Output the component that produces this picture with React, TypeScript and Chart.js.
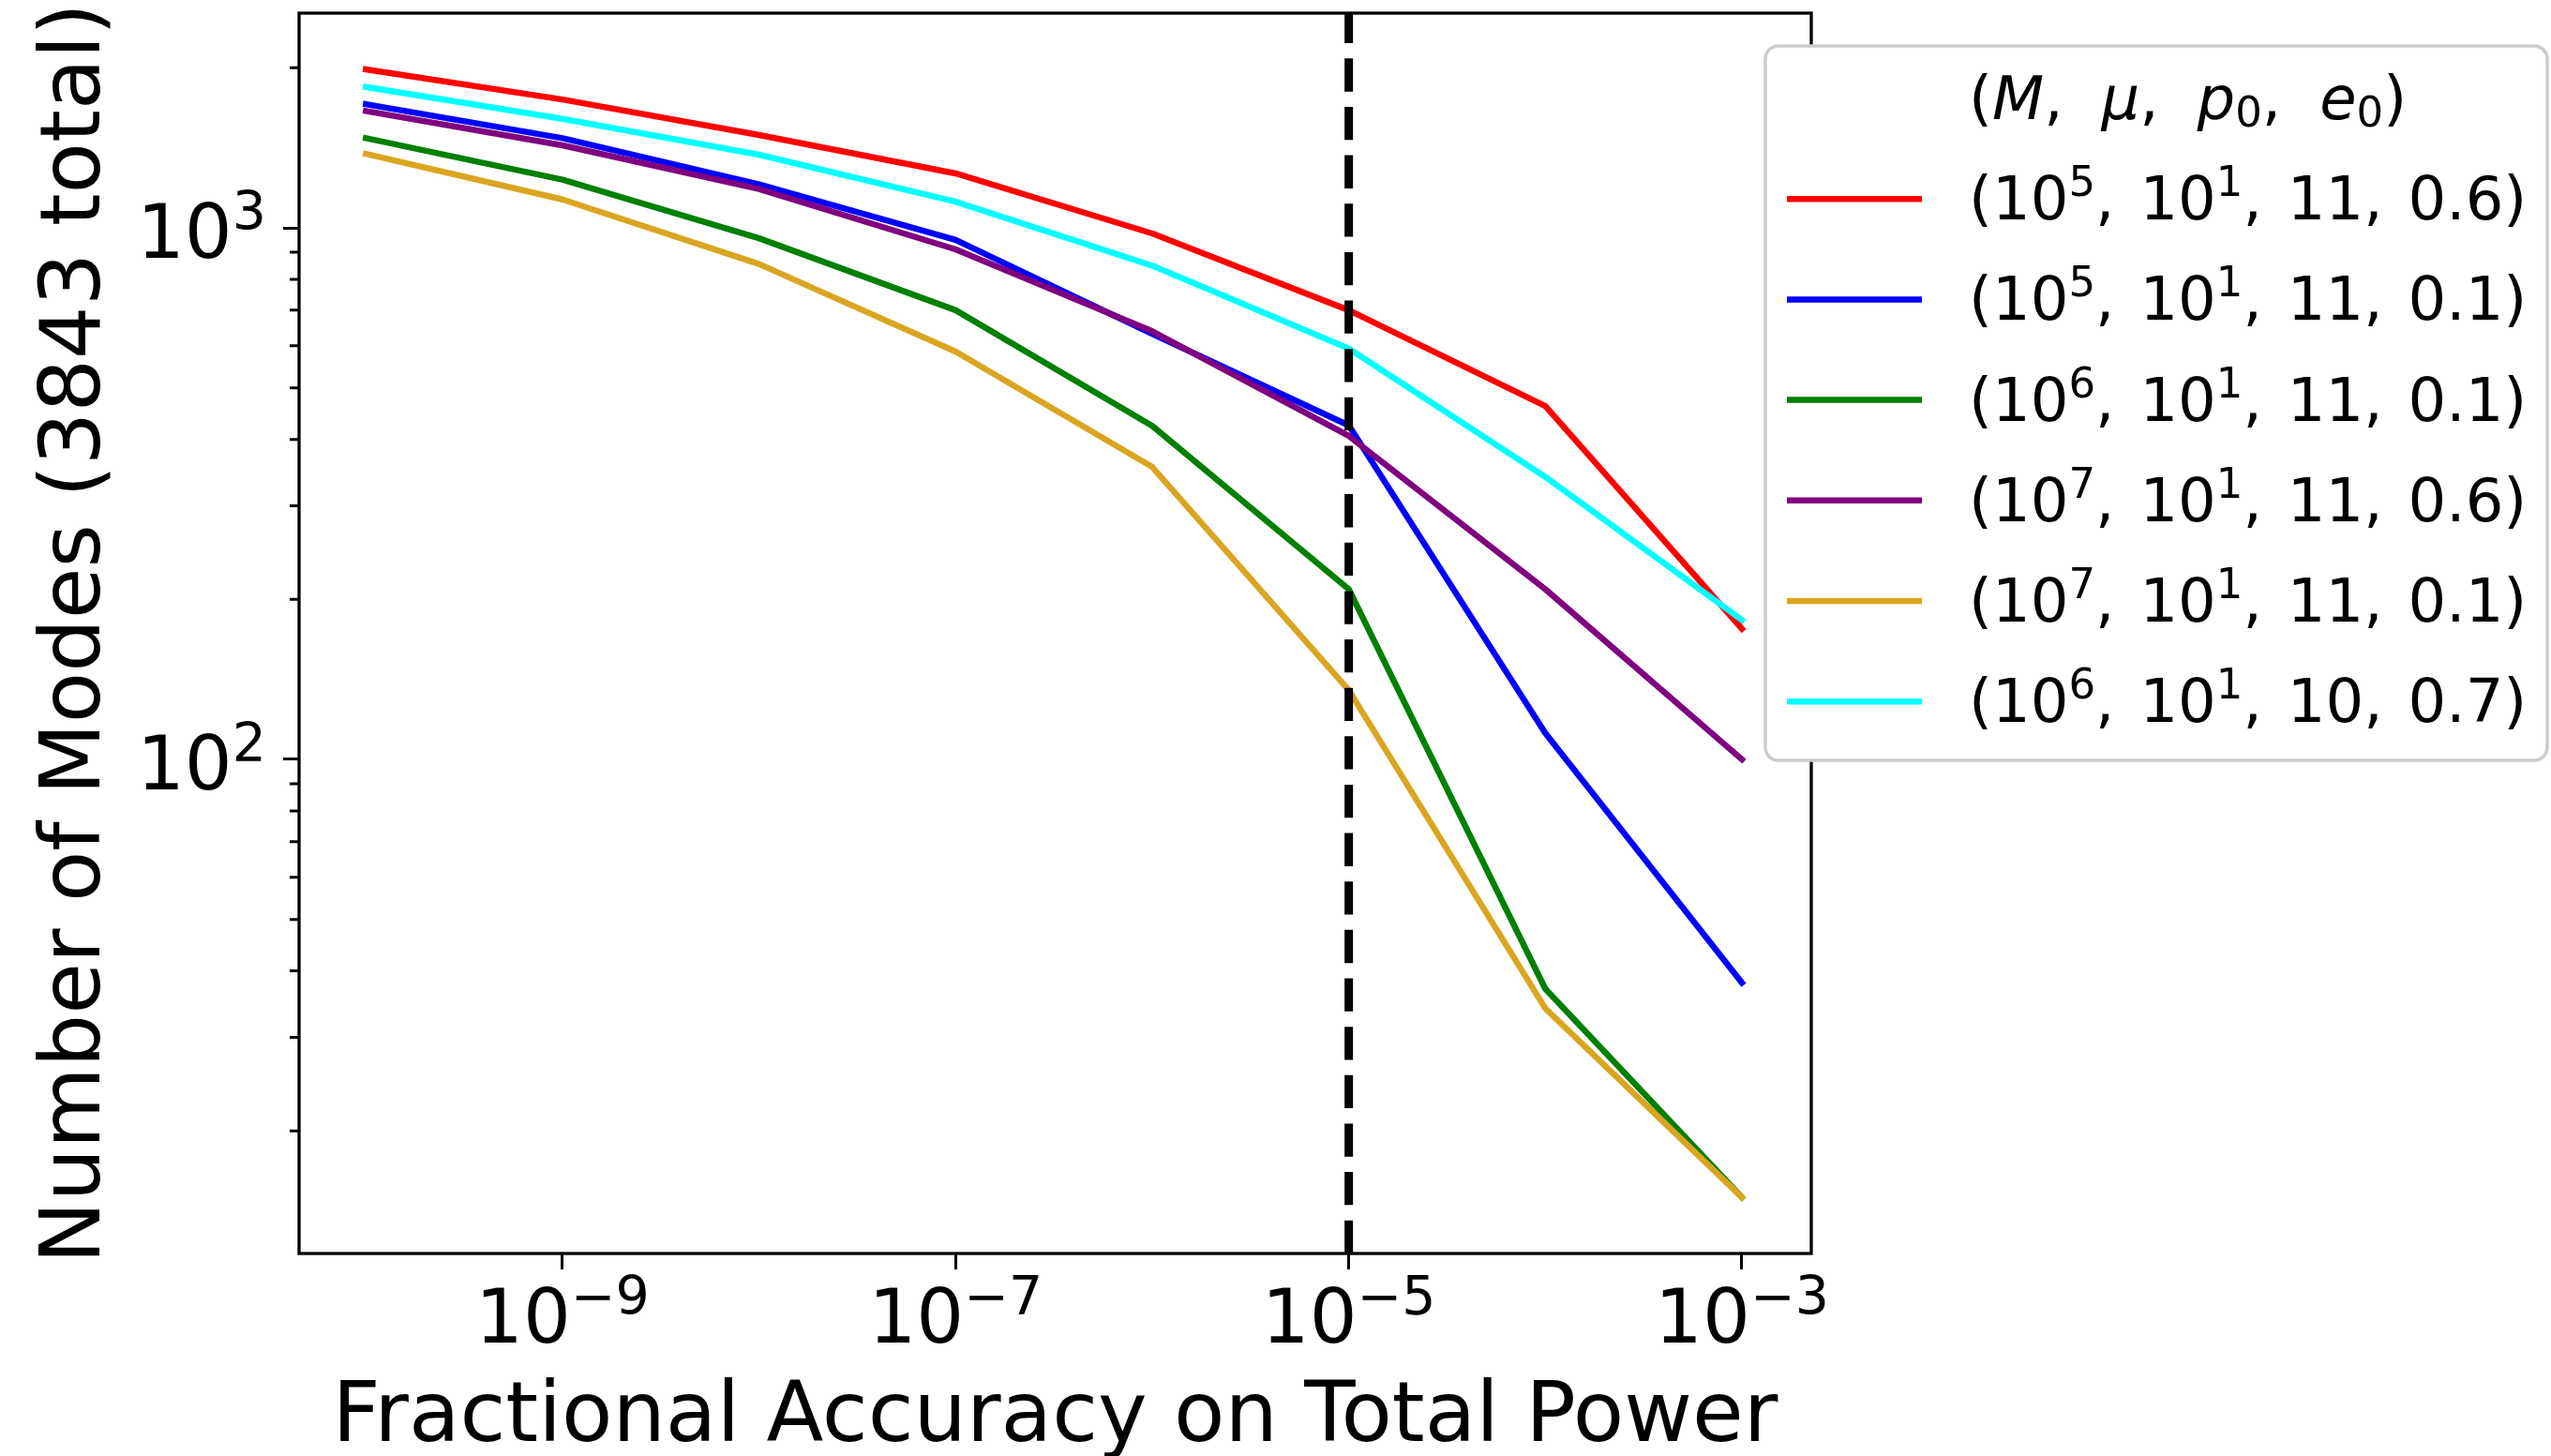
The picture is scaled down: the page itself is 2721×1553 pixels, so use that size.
import React, { useEffect, useRef } from 'react';
import { Chart, registerables } from 'chart.js';

Chart.register(...registerables);

// ---------------- data ----------------
const FRACTIONAL_ACCURACY = [1e-10, 1e-9, 1e-8, 1e-7, 1e-6, 1e-5, 1e-4, 1e-3];

const MODES_M5_E06 = [1987, 1744, 1495, 1266, 976, 700, 462, 176];
const MODES_M5_E01 = [1709, 1475, 1207, 949, 632, 425, 112, 38];
const MODES_M6_E01 = [1475, 1232, 956, 700, 424, 209, 37, 15];
const MODES_M7_E06 = [1659, 1430, 1183, 911, 639, 406, 209, 100];
const MODES_M7_E01 = [1378, 1131, 855, 585, 355, 135, 34, 15];
const MODES_M6_P10_E07 = [1841, 1604, 1373, 1120, 849, 593, 340, 183];

const SERIES_VALUES = [MODES_M5_E06, MODES_M5_E01, MODES_M6_E01, MODES_M7_E06, MODES_M7_E01, MODES_M6_P10_E07];
const SERIES_COLORS = ['#ff0000', '#0000ff', '#008000', '#800080', '#daa520', '#00ffff'];

// legend label parts: (10^M, 10^MU, P0, E0)
const LABEL_M_EXP = ['5', '5', '6', '7', '7', '6'];
const LABEL_MU_EXP = ['1', '1', '1', '1', '1', '1'];
const LABEL_P0 = ['11', '11', '11', '11', '11', '10'];
const LABEL_E0 = ['0.6', '0.1', '0.1', '0.6', '0.1', '0.7'];

const THRESHOLD = 1e-5;

const X_MIN = 4.57e-11;
const X_MAX = 2.254e-3;
const Y_MIN = 11.76;
const Y_MAX = 2535;

const X_TICKS = [1e-9, 1e-7, 1e-5, 1e-3];
const X_TICK_EXPONENTS = ['\u22129', '\u22127', '\u22125', '\u22123'];
const Y_MAJOR_TICKS = [100, 1000];
const Y_TICK_EXPONENTS = ['2', '3'];
const Y_MINOR_TICKS = [20, 30, 40, 50, 60, 70, 80, 90, 200, 300, 400, 500, 600, 700, 800, 900, 2000];

const X_TITLE = 'Fractional Accuracy on Total Power';
const Y_TITLE = 'Number of Modes (3843 total)';

// ---------------- drawing helpers ----------------
const FAMILY = '"DejaVu Sans", sans-serif';
const font = (size: number, italic = false) => `${italic ? 'italic ' : ''}${size}px ${FAMILY}`;

type Run = { text: string; size: number; italic?: boolean; dy?: number; gap?: number };

function runsWidth(ctx: CanvasRenderingContext2D, runs: Run[]) {
  let w = 0;
  for (const r of runs) {
    ctx.font = font(r.size, r.italic);
    w += ctx.measureText(r.text).width + (r.gap || 0);
  }
  return w;
}

function drawRuns(ctx: CanvasRenderingContext2D, x: number, baseline: number, runs: Run[]) {
  let cx = x;
  ctx.textAlign = 'left';
  ctx.textBaseline = 'alphabetic';
  for (const r of runs) {
    ctx.font = font(r.size, r.italic);
    ctx.fillText(r.text, cx, baseline + (r.dy || 0));
    cx += ctx.measureText(r.text).width + (r.gap || 0);
  }
  return cx - x;
}

const TICK_FONT = 80;
const SUP_FONT = 57;
const LEG_FONT = 64;
const LEG_SUB = 45;
const LEG_GAP = 27;
const TITLE_GAP = 41;

const decorPlugin = {
  id: 'decor',
  afterDraw(chart: any) {
    const ctx: CanvasRenderingContext2D = chart.ctx;
    const area = chart.chartArea;
    const xs = chart.scales.x;
    const ys = chart.scales.y;
    ctx.save();
    ctx.fillStyle = '#000';
    ctx.strokeStyle = '#000';

    // frame
    ctx.lineWidth = 3.3;
    ctx.strokeRect(area.left, area.top, area.right - area.left, area.bottom - area.top);

    // minor y ticks
    ctx.lineWidth = 3;
    ctx.beginPath();
    for (const v of Y_MINOR_TICKS) {
      const py = ys.getPixelForValue(v);
      if (py < area.top || py > area.bottom) continue;
      ctx.moveTo(area.left, py);
      ctx.lineTo(area.left - 10, py);
    }
    ctx.stroke();

    // x tick labels
    X_TICKS.forEach((v, i) => {
      const px = xs.getPixelForValue(v);
      const runs: Run[] = [
        { text: '10', size: TICK_FONT },
        { text: X_TICK_EXPONENTS[i], size: SUP_FONT, dy: -30 },
      ];
      const w = runsWidth(ctx, runs);
      drawRuns(ctx, px - w / 2, 1432, runs);
    });

    // y tick labels
    Y_MAJOR_TICKS.forEach((v, i) => {
      const py = ys.getPixelForValue(v);
      const runs: Run[] = [
        { text: '10', size: TICK_FONT },
        { text: Y_TICK_EXPONENTS[i], size: SUP_FONT, dy: -30 },
      ];
      const w = runsWidth(ctx, runs);
      drawRuns(ctx, 284 - w, py + 32, runs);
    });

    // axis titles
    ctx.font = font(89);
    ctx.textAlign = 'center';
    ctx.textBaseline = 'alphabetic';
    ctx.fillText(X_TITLE, (area.left + area.right) / 2, 1537);
    ctx.save();
    ctx.translate(106, (area.top + area.bottom) / 2);
    ctx.rotate(-Math.PI / 2);
    ctx.fillText(Y_TITLE, 0, 0);
    ctx.restore();

    // legend
    const lx = 1883, ly = 49, lw = 2717 - 1883, lh = 811 - 49, rad = 14;
    ctx.beginPath();
    ctx.moveTo(lx + rad, ly);
    ctx.arcTo(lx + lw, ly, lx + lw, ly + lh, rad);
    ctx.arcTo(lx + lw, ly + lh, lx, ly + lh, rad);
    ctx.arcTo(lx, ly + lh, lx, ly, rad);
    ctx.arcTo(lx, ly, lx + lw, ly, rad);
    ctx.closePath();
    ctx.fillStyle = '#ffffff';
    ctx.fill();
    ctx.lineWidth = 3.5;
    ctx.strokeStyle = '#cccccc';
    ctx.stroke();

    ctx.fillStyle = '#000';
    const textX = 2100;
    const row0 = 105;
    const rowStep = 107.2;
    const titleRuns: Run[] = [
      { text: '(', size: LEG_FONT },
      { text: 'M', size: LEG_FONT, italic: true },
      { text: ',', size: LEG_FONT, gap: TITLE_GAP },
      { text: '\u03bc', size: LEG_FONT, italic: true },
      { text: ',', size: LEG_FONT, gap: TITLE_GAP },
      { text: 'p', size: LEG_FONT, italic: true },
      { text: '0', size: LEG_SUB, dy: 8 },
      { text: ',', size: LEG_FONT, gap: TITLE_GAP },
      { text: 'e', size: LEG_FONT, italic: true },
      { text: '0', size: LEG_SUB, dy: 8 },
      { text: ')', size: LEG_FONT },
    ];
    drawRuns(ctx, textX, row0 + 22, titleRuns);

    SERIES_COLORS.forEach((c, i) => {
      const y = row0 + rowStep * (i + 1);
      ctx.strokeStyle = c;
      ctx.lineWidth = 6.5;
      ctx.lineCap = 'butt';
      ctx.beginPath();
      ctx.moveTo(1906, y);
      ctx.lineTo(2050, y);
      ctx.stroke();
      const runs: Run[] = [
        { text: '(', size: LEG_FONT },
        { text: '10', size: LEG_FONT },
        { text: LABEL_M_EXP[i], size: LEG_SUB, dy: -25 },
        { text: ',', size: LEG_FONT, gap: LEG_GAP },
        { text: '10', size: LEG_FONT },
        { text: LABEL_MU_EXP[i], size: LEG_SUB, dy: -25 },
        { text: ',', size: LEG_FONT, gap: LEG_GAP },
        { text: LABEL_P0[i], size: LEG_FONT },
        { text: ',', size: LEG_FONT, gap: LEG_GAP },
        { text: LABEL_E0[i], size: LEG_FONT },
        { text: ')', size: LEG_FONT },
      ];
      drawRuns(ctx, textX, y + 22, runs);
    });

    ctx.restore();
  },
};

export default function App() {
  const canvasRef = useRef<HTMLCanvasElement | null>(null);

  useEffect(() => {
    const canvas = canvasRef.current;
    if (!canvas) return;

    const lineDatasets = SERIES_VALUES.map((vals, i) => ({
      label: `(10^${LABEL_M_EXP[i]}, 10^${LABEL_MU_EXP[i]}, ${LABEL_P0[i]}, ${LABEL_E0[i]})`,
      data: FRACTIONAL_ACCURACY.map((x, k) => ({ x, y: vals[k] })),
      borderColor: SERIES_COLORS[i],
      backgroundColor: SERIES_COLORS[i],
      borderWidth: 6.5,
      pointRadius: 0,
      tension: 0,
      fill: false,
      borderCapStyle: 'square' as const,
      borderJoinStyle: 'round' as const,
      order: 10 - i,
    }));

    const thresholdDataset = {
      label: 'threshold',
      data: [
        { x: THRESHOLD, y: Y_MIN },
        { x: THRESHOLD, y: Y_MAX },
      ],
      borderColor: '#000000',
      borderWidth: 9,
      borderDash: [35.3, 16.34],
      borderCapStyle: 'butt' as const,
      pointRadius: 0,
      fill: false,
      order: 1,
    };

    const chart = new Chart(canvas, {
      type: 'line',
      data: { datasets: [...lineDatasets, thresholdDataset] as any },
      options: {
        responsive: false,
        devicePixelRatio: 1,
        animation: false,
        parsing: true,
        layout: { padding: { top: 14, right: 789, bottom: 0, left: 0 } },
        plugins: {
          legend: { display: false },
          tooltip: { enabled: false },
          title: { display: false },
        },
        scales: {
          x: {
            type: 'logarithmic',
            min: X_MIN,
            max: X_MAX,
            border: { display: false },
            grid: {
              display: true,
              drawOnChartArea: false,
              drawTicks: true,
              tickLength: 17,
              tickWidth: 3,
              tickColor: '#000000',
            },
            ticks: { display: false },
            afterBuildTicks: (scale: any) => {
              scale.ticks = X_TICKS.map((v) => ({ value: v, major: true }));
            },
            afterFit: (scale: any) => {
              scale.height = 1553 - 1337;
            },
          },
          y: {
            type: 'logarithmic',
            min: Y_MIN,
            max: Y_MAX,
            border: { display: false },
            grid: {
              display: true,
              drawOnChartArea: false,
              drawTicks: true,
              tickLength: 17,
              tickWidth: 3,
              tickColor: '#000000',
            },
            ticks: { display: false },
            afterBuildTicks: (scale: any) => {
              scale.ticks = Y_MAJOR_TICKS.map((v) => ({ value: v, major: true }));
            },
            afterFit: (scale: any) => {
              scale.width = 319;
            },
          },
        },
      } as any,
      plugins: [decorPlugin],
    });

    return () => chart.destroy();
  }, []);

  return (
    <div style={{ position: 'absolute', left: 0, top: 0, width: 2721, height: 1553, background: '#fff' }}>
      <canvas ref={canvasRef} width={2721} height={1553} style={{ display: 'block', width: 2721, height: 1553 }} />
    </div>
  );
}
